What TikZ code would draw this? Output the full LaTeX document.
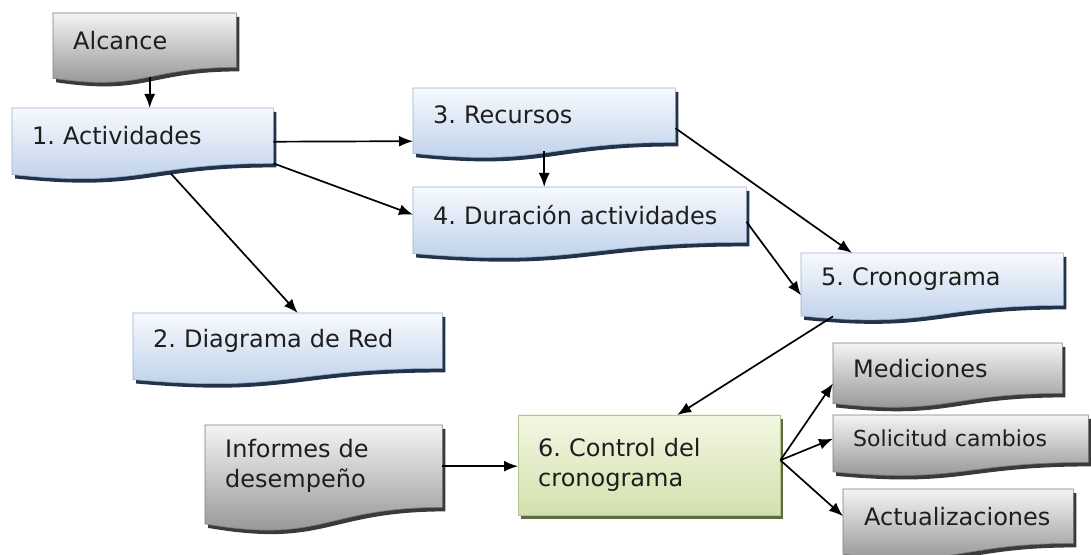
\documentclass[tikz,border=0pt]{standalone}
\usepackage{fontspec}
\setmainfont{DejaVu Sans}
\usetikzlibrary{arrows.meta,calc,backgrounds}
\frenchspacing

\definecolor{txt}{HTML}{1E1E1E}
\definecolor{bluetop}{HTML}{F7FAFE}
\definecolor{bluebot}{HTML}{B9CDE8}
\definecolor{blueline}{HTML}{9AAFC9}
\definecolor{blueshd}{HTML}{22324A}
\definecolor{graytop}{HTML}{F4F4F4}
\definecolor{graybot}{HTML}{8C8C8C}
\definecolor{grayline}{HTML}{7A7A7A}
\definecolor{grayshd}{HTML}{3A3A3A}
\definecolor{greentop}{HTML}{F3F7E2}
\definecolor{greenbot}{HTML}{D3E0AE}
\definecolor{greenline}{HTML}{B3C68A}
\definecolor{greenshd}{HTML}{5E6B45}

\tikzset{
  box/.style={anchor=north west, inner xsep=20pt, inner ysep=0pt, align=left,
    text=txt, font=\fontsize{24}{30}\selectfont},
  bluedoc/.style={top color=bluetop, bottom color=bluebot, draw=blueline, line width=0.6pt},
  graydoc/.style={top color=graytop, bottom color=graybot, draw=grayline, line width=0.6pt},
  greendoc/.style={top color=greentop, bottom color=greenbot, draw=greenline, line width=0.6pt},
  arr/.style={-{Latex[length=14pt,width=11pt]}, line width=1.7pt},
}

% document shape with wavy bottom, drawn under node #1
\newcommand{\docshape}[3]{%
  \fill[#2] let \p1=($(#1.north west)+(3,-4)$), \p2=($(#1.south east)+(3,-4)$), \n1={\y1-\y2} in
    (\p1) -- (\x2,\y1) -- (\p2) .. controls ({(\x1+\x2)/2},\y2) and ({(\x1+\x2)/2},{\y2-0.45*\n1}) .. (\x1,{\y2-0.2*\n1}) -- cycle;
  \path[#3] let \p1=(#1.north west), \p2=(#1.south east), \n1={\y1-\y2} in
    (\p1) -- (\x2,\y1) -- (\p2) .. controls ({(\x1+\x2)/2},\y2) and ({(\x1+\x2)/2},{\y2-0.45*\n1}) .. (\x1,{\y2-0.2*\n1}) -- cycle;
}

\begin{document}
\begin{tikzpicture}[x=1pt,y=1pt]
  \useasboundingbox (0,0) rectangle (1091,554);

  \node[box, text width=143pt, minimum height=54pt] (alc) at (53,541) {Alcance};
  \node[box, text width=221pt, minimum height=55pt] (act) at (12,446) {1. Actividades};
  \node[box, text width=222pt, minimum height=54pt] (rec) at (413,466) {3. Recursos};
  \node[box, text width=293pt, minimum height=55pt] (dur) at (413,367) {4. Duración actividades};
  \node[box, text width=222pt, minimum height=52pt] (cro) at (801,301) {5. Cronograma};
  \node[box, text width=269pt, minimum height=55pt] (dia) at (133,241) {2. Diagrama de Red};
  \node[box, text width=197pt, minimum height=82pt] (inf) at (205,129) {Informes de\\desempeño};
  \node[box, text width=222pt, minimum height=100pt] (ctl) at (518,139) {6. Control del\\cronograma};
  \node[box, text width=189pt, minimum height=50pt] (med) at (833,211) {Mediciones};
  \node[box, text width=215pt, minimum height=47pt, font=\fontsize{22}{26}\selectfont] (sol) at (833,139) {Solicitud cambios};
  \node[box, text width=188pt, inner xsep=21pt, minimum height=54pt] (upd) at (843,65) {Actualizaciones};

  \begin{scope}[on background layer]
    \docshape{alc}{grayshd}{graydoc}
    \docshape{act}{blueshd}{bluedoc}
    \docshape{rec}{blueshd}{bluedoc}
    \docshape{dur}{blueshd}{bluedoc}
    \docshape{cro}{blueshd}{bluedoc}
    \docshape{dia}{blueshd}{bluedoc}
    \docshape{inf}{grayshd}{graydoc}
    \docshape{med}{grayshd}{graydoc}
    \docshape{sol}{grayshd}{graydoc}
    \docshape{upd}{grayshd}{graydoc}
    \fill[greenshd] ($(ctl.north west)+(3,-4)$) rectangle ($(ctl.south east)+(3,-4)$);
    \path[greendoc] (ctl.north west) rectangle (ctl.south east);
  \end{scope}

  \draw[arr] ($(alc.south)+(5,-10)$) -- ($(alc.south |- act.north)+(5,0)$);
  \draw[arr] ([yshift=-6pt]act.east) -- ([yshift=-26pt]rec.west);
  \draw[arr] (act.south east) -- (dur.west);
  \draw[arr] ([shift={(28pt,-10pt)}]act.south) -- ([xshift=10pt]dia.north);
  \draw[arr] ([yshift=-9pt]rec.south) -- (rec.south |- dur.north);
  \draw[arr] ([yshift=-13pt]rec.east) -- ([xshift=51pt]cro.north west);
  \draw[arr] ([yshift=-7pt]dur.east) -- ([yshift=10pt]cro.south west);
  \draw[arr] ([shift={(32pt,-11pt)}]cro.south west) -- ([xshift=28pt]ctl.north);
  \draw[arr] (inf.east) -- (ctl.west |- inf.east);
  \draw[arr] ([yshift=5pt]ctl.east) -- ([yshift=10pt]med.south west);
  \draw[arr] ([yshift=5pt]ctl.east) -- (sol.west);
  \draw[arr] ([yshift=5pt]ctl.east) -- (upd.west);
\end{tikzpicture}
\end{document}
